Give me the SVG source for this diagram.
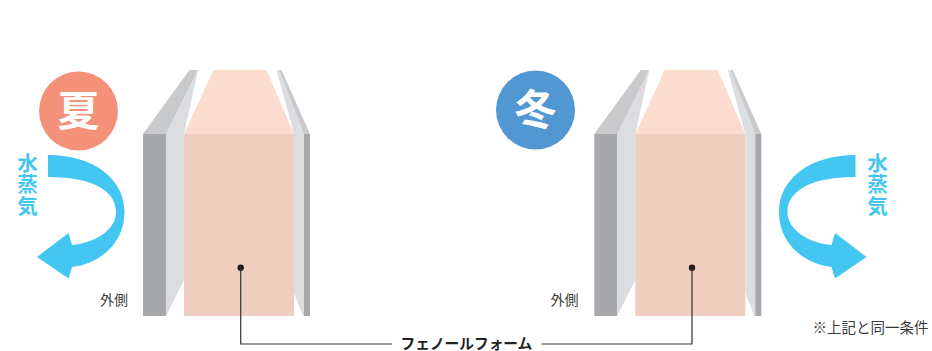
<svg xmlns="http://www.w3.org/2000/svg" xmlns:xlink="http://www.w3.org/1999/xlink" width="932" height="351" viewBox="0 0 932 351">
  <style>
    .jp { font-family: "Noto Sans CJK JP", "Noto Sans", sans-serif; }
    .season { font-size: 42px; font-weight: 700; fill: #ffffff; text-anchor: middle; }
    .vapor { font-size: 20.5px; font-weight: 700; fill: #43c6f2; writing-mode: tb; letter-spacing: 1px; }
    .small { font-size: 14px; fill: #3a3a3a; }
    .label { font-size: 14.7px; font-weight: 700; fill: #222222; }
    .dark { fill: #a7a8ab; }
    .mid { fill: #c9cacc; }
    .light { fill: #dcdde0; }
    .foamTop { fill: #fcdccf; }
    .foam { fill: #efcdbf; }
    .flow { fill: #43c6f2; }
    .leader { fill: none; stroke: #333333; stroke-width: 1.2; }
  </style>
  <defs>
    <!-- wall cross-section: board, sheet, phenolic foam, sheet, thin board -->
    <g id="wall">
      <polygon class="mid" points="143,134 189.5,70 198,70 166,134"/>
      <polygon class="light" points="166,134 198,70 184,134"/>
      <rect class="dark" x="143" y="134" width="23" height="182"/>
      <polygon class="light" points="166,134 184,134 184,280 166,316"/>
      <polygon class="foamTop" points="184,134 213.5,70 266.5,70 294,134"/>
      <rect class="foam" x="184" y="134" width="110" height="182"/>
      <polygon class="light" points="276.5,70 279,70 304,134 294,134"/>
      <polygon class="mid" points="279,70 281.5,70 310,134 304,134"/>
      <polygon class="light" points="294,134 304,134 304,316 303,316 294,293"/>
      <rect class="dark" x="304" y="134" width="6" height="182"/>
    </g>
    <!-- curved vapour arrow, bending back to the left -->
    <path id="bend" d="M48,155 C95,155 124.5,180 124.5,212 C124.5,245 98,264 72,267 L68.5,278.5 L37,257 L68.5,233 L72,245 C95,243 116,230 116,212 C116,192 95,177 48,177 Z"/>
  </defs>

  <!-- summer -->
  <g id="summer-wall">
    <use xlink:href="#wall" href="#wall"/>
    <circle cx="240.7" cy="267.7" r="3.2" fill="#1e1e1e"/>
  </g>
  <g id="summer-badge">
    <circle cx="78.5" cy="111" r="39.5" fill="#f49179"/>
    <text class="jp season" x="78.5" y="126">夏</text>
  </g>
  <g id="summer-vapor">
    <use xlink:href="#bend" href="#bend" class="flow"/>
    <text class="jp vapor" x="27.5" y="152.5">水蒸気</text>
  </g>
  <g id="summer-outside">
    <text class="jp small" x="100" y="305">外側</text>
  </g>

  <!-- winter -->
  <g id="winter-wall">
    <use xlink:href="#wall" href="#wall" transform="translate(451.3,0)"/>
    <circle cx="692" cy="267.7" r="3.2" fill="#1e1e1e"/>
  </g>
  <g id="winter-badge">
    <circle cx="535.5" cy="110" r="39.5" fill="#5197d1"/>
    <text class="jp season" x="535.5" y="125">冬</text>
  </g>
  <g id="winter-vapor">
    <use xlink:href="#bend" href="#bend" class="flow" transform="matrix(-1,0,0,1,903.5,0)"/>
    <text class="jp vapor" x="877.5" y="152.5">水蒸気</text>
  </g>
  <g id="winter-outside">
    <text class="jp small" x="550.5" y="305">外側</text>
  </g>

  <!-- shared foam label -->
  <g id="foam-label">
    <text class="jp label" x="400.5" y="348.5">フェノールフォーム</text>
  </g>
  <g id="note">
    <text class="jp small" x="812.5" y="333" style="font-size:14.5px">※上記と同一条件</text>
  </g>

  <g id="connectors">
    <path class="leader" d="M240.7,267.7 V344 H392"/>
    <path class="leader" d="M692,267.7 V344 H541.7"/>
  </g>
</svg>
